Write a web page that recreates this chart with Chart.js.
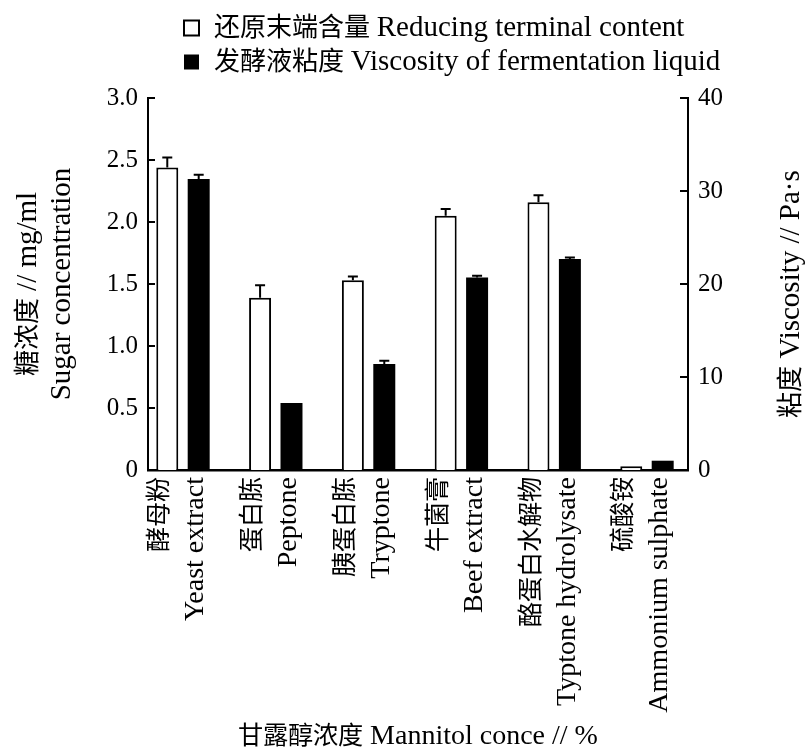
<!DOCTYPE html>
<html>
<head>
<meta charset="utf-8">
<script src="https://cdn.jsdelivr.net/npm/chart.js@4/dist/chart.umd.min.js"></script>
<style>
  /* CJK glyphs set slightly smaller than the Latin text they sit beside */
  @font-face {
    font-family: 'CJKText';
    src: local('Noto Sans CJK SC'), local('Noto Sans CJK SC Regular'), local('NotoSansCJKsc-Regular');
    unicode-range: U+2E80-9FFF, U+F900-FAFF, U+FF00-FFEF;
    size-adjust: 90%;
  }
  html, body { margin: 0; padding: 0; background: #fff; }
  canvas { display: block; }
</style>
</head>
<body>
<canvas id="chart" width="808" height="754"></canvas>
<script>
// Nitrogen sources tested (Chinese name / English name)
const categoriesCn = ['酵母粉', '蛋白胨', '胰蛋白胨', '牛菌膏', '酪蛋白水解物', '硫酸铵'];
const categoriesEn = ['Yeast extract', 'Peptone', 'Tryptone', 'Beef extract', 'Typtone hydrolysate', 'Ammonium sulphate'];

// Reducing terminal content (mg/ml) and its error
const reducingSugar    = [2.44, 1.39, 1.53, 2.05, 2.16, 0.03];
const reducingSugarErr = [0.08, 0.10, 0.03, 0.055, 0.055, 0];

// Fermentation liquid viscosity (Pa·s) and its error
const viscosity    = [31.3, 7.2, 11.4, 20.7, 22.7, 1.0];
const viscosityErr = [0.45, 0, 0.35, 0.2, 0.15, 0];

// Axis ranges / tick steps
const sugarAxis     = { min: 0, max: 3, step: 0.5 };
const viscosityAxis = { min: 0, max: 40, step: 10 };

const legendLabels = ['还原末端含量 Reducing terminal content', '发酵液粘度 Viscosity of fermentation liquid'];
const xTitle = '甘露醇浓度 Mannitol conce // %';
const yTitle = ['糖浓度 // mg/ml', 'Sugar concentration'];
const y1Title = '粘度 Viscosity // Pa·s';

const SERIF = "'Liberation Serif', 'CJKText', 'Noto Sans CJK SC', serif";

const errorSets = [reducingSugarErr, viscosityErr];

// Upper error whiskers with caps, positioned through the value scales
const errorBars = {
  id: 'errorBars',
  afterDatasetsDraw(chart) {
    const ctx = chart.ctx;
    ctx.save();
    ctx.strokeStyle = '#000';
    ctx.lineWidth = 2;
    errorSets.forEach((errs, d) => {
      const meta = chart.getDatasetMeta(d);
      const scale = chart.scales[meta.yAxisID];
      meta.data.forEach((bar, i) => {
        const e = errs[i];
        if (!e) return;
        const v = chart.data.datasets[d].data[i].y;
        const yTop = scale.getPixelForValue(v + e);
        ctx.beginPath();
        ctx.moveTo(bar.x, bar.y);
        ctx.lineTo(bar.x, yTop);
        ctx.moveTo(bar.x - 5, yTop);
        ctx.lineTo(bar.x + 5, yTop);
        ctx.stroke();
      });
    });
    ctx.restore();
  }
};

// Tick marks pointing into the plot area on both value axes
const innerTicks = {
  id: 'innerTicks',
  afterDraw(chart) {
    const { ctx, chartArea } = chart;
    ctx.save();
    ctx.strokeStyle = '#000';
    ctx.lineWidth = 2;
    [['y', 1, 7], ['y1', -1, 8]].forEach(([id, dir, len]) => {
      const s = chart.scales[id];
      const x0 = dir > 0 ? chartArea.left : chartArea.right;
      s.ticks.forEach((t, i) => {
        const py = Math.round(s.getPixelForTick(i));
        ctx.beginPath();
        ctx.moveTo(x0, py);
        ctx.lineTo(x0 + dir * len, py);
        ctx.stroke();
      });
    });
    ctx.restore();
  }
};

// Right axis title reading bottom-to-top
const rightTitle = {
  id: 'rightTitle',
  afterDraw(chart) {
    const s = chart.scales.y1;
    const ctx = chart.ctx;
    ctx.save();
    ctx.font = '29px ' + SERIF;
    ctx.fillStyle = '#000';
    ctx.textAlign = 'center';
    ctx.textBaseline = 'middle';
    ctx.translate(s.right - 17, (s.top + s.bottom) / 2 + 10);
    ctx.rotate(-Math.PI / 2);
    ctx.fillText(y1Title, 0, 0);
    ctx.restore();
  }
};

// Left-aligned legend block above the plot
const legendPlacement = {
  id: 'legendPlacement',
  afterLayout(chart) {
    const lg = chart.legend;
    if (!lg) return;
    const dx = 179 - lg.left;
    lg.left += dx;
    lg.right += dx;
    lg.top = 8.5;
    lg.bottom = lg.top + lg.height;
  }
};

function drawChart() {
  Chart.defaults.font.family = SERIF;
  Chart.defaults.color = '#000';

  new Chart(document.getElementById('chart'), {
    type: 'bar',
    data: {
      datasets: [
        {
          label: legendLabels[0],
          data: reducingSugar.map((v, i) => ({ x: i, y: v })),
          yAxisID: 'y',
          backgroundColor: '#fff',
          borderColor: '#000',
          borderWidth: 2,
          borderSkipped: 'bottom',
          barPercentage: 0.7,
          categoryPercentage: 0.677
        },
        {
          label: legendLabels[1],
          data: viscosity.map((v, i) => ({ x: i, y: v })),
          yAxisID: 'y1',
          backgroundColor: '#000',
          borderColor: '#000',
          borderWidth: 0,
          barPercentage: 0.7,
          categoryPercentage: 0.677
        }
      ]
    },
    options: {
      responsive: false,
      animation: false,
      devicePixelRatio: 1,
      layout: { padding: { top: 20, left: 0, right: 0, bottom: 0 } },
      plugins: {
        legend: {
          position: 'top',
          align: 'start',
          labels: {
            boxWidth: 15,
            boxHeight: 15,
            padding: 5,
            color: '#000',
            font: { size: 29 }
          }
        },
        tooltip: { enabled: false }
      },
      scales: {
        x: {
          type: 'linear',
          position: 'bottom',
          min: -0.377,
          max: 5.442,
          offset: false,
          grid: { display: false, drawTicks: false },
          border: { display: true, color: '#000', width: 2.5 },
          ticks: {
            stepSize: 1,
            includeBounds: false,
            autoSkip: false,
            minRotation: 90,
            maxRotation: 90,
            padding: 7,
            labelOffset: -23,
            color: '#000',
            font: { size: 28, lineHeight: 36 / 28 },
            callback: (v) => (Number.isInteger(v) && v >= 0 && v < categoriesCn.length)
              ? [categoriesCn[v], categoriesEn[v]] : ''
          },
          title: {
            display: true,
            text: xTitle,
            color: '#000',
            font: { size: 28, lineHeight: 1.1 },
            padding: { top: 0, bottom: 2 }
          },
          afterFit: (s) => { s.height = 284; }
        },
        y: {
          position: 'left',
          min: sugarAxis.min,
          max: sugarAxis.max,
          grid: { display: false, drawTicks: false },
          border: { display: true, color: '#000', width: 2 },
          ticks: {
            stepSize: sugarAxis.step,
            padding: 10,
            color: '#000',
            font: { size: 25 },
            callback: (v) => v === 0 ? '0' : v.toFixed(1)
          },
          title: {
            display: true,
            text: yTitle,
            color: '#000',
            font: { size: 29, lineHeight: 34 / 29 },
            padding: { top: 11, bottom: 0 }
          },
          afterFit: (s) => { s.width = 148; }
        },
        y1: {
          position: 'right',
          min: viscosityAxis.min,
          max: viscosityAxis.max,
          grid: { display: false, drawTicks: false },
          border: { display: true, color: '#000', width: 2 },
          ticks: {
            stepSize: viscosityAxis.step,
            padding: 10,
            color: '#000',
            font: { size: 25 }
          },
          afterFit: (s) => { s.width = 120; }
        }
      }
    },
    plugins: [legendPlacement, errorBars, innerTicks, rightTitle]
  });
}

Promise.resolve(document.fonts ? document.fonts.load("28px 'CJKText'", '酵母粉') : null)
  .catch(() => null)
  .then(drawChart);
</script>
</body>
</html>
